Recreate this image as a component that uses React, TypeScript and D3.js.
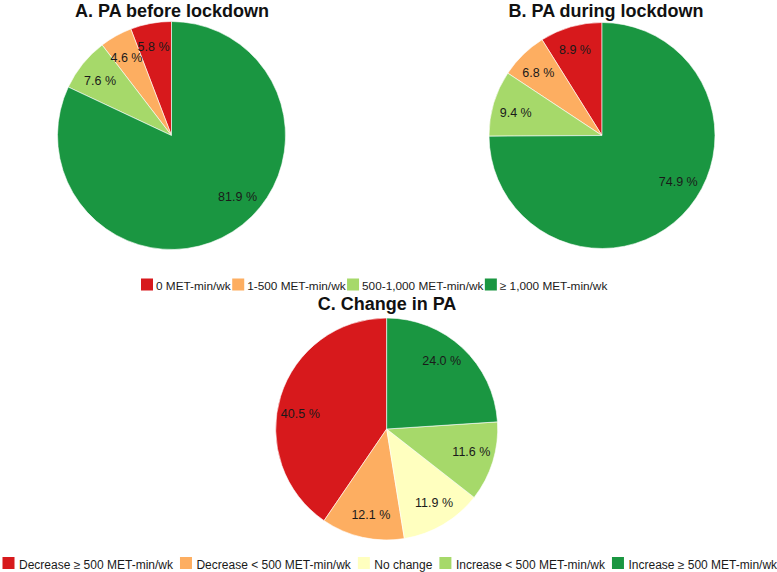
import React from "react";
import * as d3 from "d3";

// ---- Data ----
const CAT_AB = ["0 MET-min/wk", "1-500 MET-min/wk", "500-1,000 MET-min/wk", "≥ 1,000 MET-min/wk"];
const BEFORE = [5.8, 4.6, 7.6, 81.9];
const DURING = [8.9, 6.8, 9.4, 74.9];
const CAT_C = [
  "Decrease ≥ 500 MET-min/wk",
  "Decrease < 500 MET-min/wk",
  "No change",
  "Increase < 500 MET-min/wk",
  "Increase ≥ 500 MET-min/wk",
];
const CHANGE = [40.5, 12.1, 11.9, 11.6, 24.0];
const TITLES = ["A. PA before lockdown", "B. PA during lockdown", "C. Change in PA"];

// ---- Styles ----
const COLORS_AB = ["#d7191c", "#fdae61", "#a6d96a", "#1a9641"];
const COLORS_C = ["#d7191c", "#fdae61", "#ffffbf", "#a6d96a", "#1a9641"];
const FONT = "'Liberation Sans', Arial, Helvetica, sans-serif";

const W = 777;
const H = 572;

let ctx: CanvasRenderingContext2D | null = null;
function measure(text: string, size: number): number {
  if (!ctx) {
    const c = document.createElement("canvas");
    ctx = c.getContext("2d");
  }
  if (!ctx) return text.length * size * 0.55;
  ctx.font = `${size}px ${FONT}`;
  return ctx.measureText(text).width;
}

type PieProps = {
  values: number[];
  colors: string[];
  cx: number;
  cy: number;
  r: number;
};

function Pie({ values, colors, cx, cy, r }: PieProps) {
  const pie = d3
    .pie<number>()
    .sort(null)
    .value((d) => d)
    .startAngle(0)
    .endAngle(-2 * Math.PI);
  const arcs = pie(values);
  const arc = d3.arc<d3.PieArcDatum<number>>().innerRadius(0).outerRadius(r);
  const labelR = r * 0.79;
  const fmt = d3.format(".1f");
  return (
    <g transform={`translate(${cx},${cy})`}>
      {arcs.map((a, i) => (
        <path key={i} d={arc(a) || ""} fill={colors[i]} stroke="#ffffff" strokeWidth={0.6} />
      ))}
      {arcs.map((a, i) => {
        const th = a.startAngle + 0.55 * (a.endAngle - a.startAngle);
        const x = labelR * Math.sin(th);
        const y = -labelR * Math.cos(th);
        return (
          <text
            key={"l" + i}
            x={x}
            y={y}
            textAnchor="middle"
            dominantBaseline="central"
            fontFamily={FONT}
            fontSize={12.5}
            fill="#1a1a1a"
          >
            {fmt(a.data) + " %"}
          </text>
        );
      })}
    </g>
  );
}

type LegendProps = {
  labels: string[];
  colors: string[];
  x0: number;
  ySquare: number;
  yText: number;
  size: number;
  fontSize: number;
  textOffset: number;
  gap: number;
};

function Legend({ labels, colors, x0, ySquare, yText, size, fontSize, textOffset, gap }: LegendProps) {
  let x = x0;
  const items = labels.map((lab, i) => {
    const sx = x;
    const w = measure(lab, fontSize);
    x = sx + textOffset + w + gap;
    return (
      <g key={i}>
        <rect x={sx} y={ySquare} width={size} height={size} fill={colors[i]} />
        <text x={sx + textOffset} y={yText} fontFamily={FONT} fontSize={fontSize} fill="#1a1a1a">
          {lab}
        </text>
      </g>
    );
  });
  return <g>{items}</g>;
}

export default function App() {
  return (
    <svg
      width={W}
      height={H}
      viewBox={`0 0 ${W} ${H}`}
      style={{ position: "absolute", left: 0, top: 0, background: "#ffffff" }}
    >
      <rect x={0} y={0} width={W} height={H} fill="#ffffff" />
      <text x={172} y={17} textAnchor="middle" fontFamily={FONT} fontWeight="bold" fontSize={18} fill="#111">
        {TITLES[0]}
      </text>
      <text x={606} y={17} textAnchor="middle" fontFamily={FONT} fontWeight="bold" fontSize={18} fill="#111">
        {TITLES[1]}
      </text>
      <text x={387} y={310} textAnchor="middle" fontFamily={FONT} fontWeight="bold" fontSize={18} fill="#111">
        {TITLES[2]}
      </text>

      <Pie values={BEFORE} colors={COLORS_AB} cx={171.5} cy={135.5} r={114} />
      <Pie values={DURING} colors={COLORS_AB} cx={602} cy={135.5} r={113} />
      <Pie values={CHANGE} colors={COLORS_C} cx={386.7} cy={429} r={111} />

      <Legend
        labels={CAT_AB}
        colors={COLORS_AB}
        x0={141}
        ySquare={278.5}
        yText={289.5}
        size={12}
        fontSize={11.8}
        textOffset={15}
        gap={1.5}
      />
      <Legend
        labels={CAT_C}
        colors={COLORS_C}
        x0={2.5}
        ySquare={557}
        yText={568.5}
        size={12}
        fontSize={12}
        textOffset={16.5}
        gap={7}
      />
    </svg>
  );
}
